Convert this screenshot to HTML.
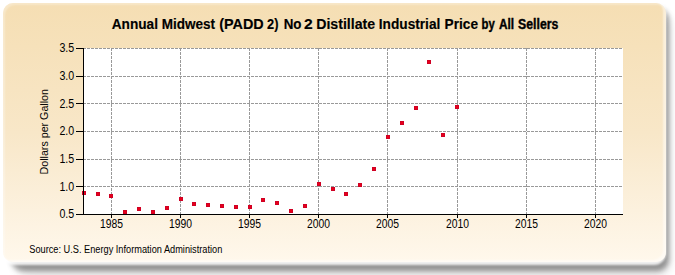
<!DOCTYPE html>
<html><head><meta charset="utf-8"><style>
html,body{margin:0;padding:0;width:675px;height:275px;overflow:hidden;background:#fff;}
.shadow{position:absolute;left:11px;top:8px;width:658px;height:263px;border-radius:12px;background:rgba(0,0,0,0.34);filter:blur(2.6px);}
.shadow2{position:absolute;left:16px;top:14px;width:654px;height:262px;border-radius:14px;background:rgba(0,0,0,0.13);filter:blur(5px);}
.halo{position:absolute;left:2px;top:2px;width:664px;height:263px;border-radius:12px;background:rgba(255,255,255,0.85);filter:blur(1.3px);}
.card{position:absolute;left:3px;top:3px;width:663px;height:259px;border-radius:10px;background:linear-gradient(to bottom,#f5deb3 0%,#f8e7c8 50%,#fcf1de 80%,#fff8ec 100%);box-shadow:inset -3px -2px 2px rgba(255,255,255,0.5), inset 2px 2px 2px rgba(255,255,255,0.3);}
svg{position:absolute;left:0;top:0;}
text{font-family:"Liberation Sans",sans-serif;fill:#000;}
</style></head><body>
<div class="shadow2"></div><div class="shadow"></div><div class="halo"></div><div class="card"></div>
<svg width="675" height="275" viewBox="0 0 675 275">
<g font-weight="bold" font-size="14" stroke="#000" stroke-width="0.15">
<text x="111.7" y="29" textLength="46.27" lengthAdjust="spacingAndGlyphs">Annual</text>
<text x="161.7" y="29" textLength="53.3" lengthAdjust="spacingAndGlyphs">Midwest</text>
<text x="219.3" y="29" textLength="44.42" lengthAdjust="spacingAndGlyphs">(PADD</text>
<text x="267.0" y="29" textLength="11.4" lengthAdjust="spacingAndGlyphs">2)</text>
<text x="283.7" y="29" textLength="17.77" lengthAdjust="spacingAndGlyphs">No</text>
<text x="304.1" y="29" textLength="8.70" lengthAdjust="spacingAndGlyphs">2</text>
<text x="316.2" y="29" textLength="59.01" lengthAdjust="spacingAndGlyphs">Distillate</text>
<text x="378.8" y="29" textLength="61.51" lengthAdjust="spacingAndGlyphs">Industrial</text>
<text x="444.6" y="29" textLength="33.4" lengthAdjust="spacingAndGlyphs">Price</text>
<text x="481.6" y="29" textLength="13.2" lengthAdjust="spacingAndGlyphs" stroke-width="0.4">by</text>
<text x="499.0" y="29" textLength="15.09" lengthAdjust="spacingAndGlyphs" stroke-width="0.4">All</text>
<text x="518.1" y="29" textLength="40.29" lengthAdjust="spacingAndGlyphs" stroke-width="0.4">Sellers</text>
</g>
<rect x="83" y="48" width="540" height="166" fill="#fff"/>
<g stroke="#999" stroke-width="1" stroke-dasharray="3,1" fill="none" shape-rendering="crispEdges">
<line x1="83" y1="76.5" x2="623" y2="76.5"/>
<line x1="83" y1="103.5" x2="623" y2="103.5"/>
<line x1="83" y1="131.5" x2="623" y2="131.5"/>
<line x1="83" y1="159.5" x2="623" y2="159.5"/>
<line x1="83" y1="186.5" x2="623" y2="186.5"/>
<line x1="83" y1="48.5" x2="623" y2="48.5"/>
<line x1="111.5" y1="48" x2="111.5" y2="214"/>
<line x1="180.5" y1="48" x2="180.5" y2="214"/>
<line x1="249.5" y1="48" x2="249.5" y2="214"/>
<line x1="318.5" y1="48" x2="318.5" y2="214"/>
<line x1="387.5" y1="48" x2="387.5" y2="214"/>
<line x1="457.5" y1="48" x2="457.5" y2="214"/>
<line x1="526.5" y1="48" x2="526.5" y2="214"/>
<line x1="595.5" y1="48" x2="595.5" y2="214"/>
</g>
<g shape-rendering="crispEdges">
<g fill="#cf0024">
<rect x="82" y="191" width="4" height="4"/>
<rect x="96" y="192" width="4" height="4"/>
<rect x="109" y="194" width="4" height="4"/>
<rect x="123" y="210" width="4" height="4"/>
<rect x="137" y="207" width="4" height="4"/>
<rect x="151" y="210" width="4" height="4"/>
<rect x="165" y="206" width="4" height="4"/>
<rect x="179" y="197" width="4" height="4"/>
<rect x="192" y="202" width="4" height="4"/>
<rect x="206" y="203" width="4" height="4"/>
<rect x="220" y="204" width="4" height="4"/>
<rect x="234" y="205" width="4" height="4"/>
<rect x="248" y="205" width="4" height="4"/>
<rect x="261" y="198" width="4" height="4"/>
<rect x="275" y="201" width="4" height="4"/>
<rect x="289" y="209" width="4" height="4"/>
<rect x="303" y="204" width="4" height="4"/>
<rect x="317" y="182" width="4" height="4"/>
<rect x="331" y="187" width="4" height="4"/>
<rect x="344" y="192" width="4" height="4"/>
<rect x="358" y="183" width="4" height="4"/>
<rect x="372" y="167" width="4" height="4"/>
<rect x="386" y="135" width="4" height="4"/>
<rect x="400" y="121" width="4" height="4"/>
<rect x="414" y="106" width="4" height="4"/>
<rect x="427" y="60" width="4" height="4"/>
<rect x="441" y="133" width="4" height="4"/>
<rect x="455" y="105" width="4" height="4"/>
</g>
<g fill="#ea0018">
<rect x="83" y="192" width="2" height="2"/>
<rect x="97" y="193" width="2" height="2"/>
<rect x="110" y="195" width="2" height="2"/>
<rect x="124" y="211" width="2" height="2"/>
<rect x="138" y="208" width="2" height="2"/>
<rect x="152" y="211" width="2" height="2"/>
<rect x="166" y="207" width="2" height="2"/>
<rect x="180" y="198" width="2" height="2"/>
<rect x="193" y="203" width="2" height="2"/>
<rect x="207" y="204" width="2" height="2"/>
<rect x="221" y="205" width="2" height="2"/>
<rect x="235" y="206" width="2" height="2"/>
<rect x="249" y="206" width="2" height="2"/>
<rect x="262" y="199" width="2" height="2"/>
<rect x="276" y="202" width="2" height="2"/>
<rect x="290" y="210" width="2" height="2"/>
<rect x="304" y="205" width="2" height="2"/>
<rect x="318" y="183" width="2" height="2"/>
<rect x="332" y="188" width="2" height="2"/>
<rect x="345" y="193" width="2" height="2"/>
<rect x="359" y="184" width="2" height="2"/>
<rect x="373" y="168" width="2" height="2"/>
<rect x="387" y="136" width="2" height="2"/>
<rect x="401" y="122" width="2" height="2"/>
<rect x="415" y="107" width="2" height="2"/>
<rect x="428" y="61" width="2" height="2"/>
<rect x="442" y="134" width="2" height="2"/>
<rect x="456" y="106" width="2" height="2"/>
</g>
</g>
<g stroke="#000" stroke-width="1" shape-rendering="crispEdges">
<line x1="83.5" y1="48" x2="83.5" y2="215"/>
<line x1="83" y1="214.5" x2="623" y2="214.5"/>
<line x1="76" y1="48.5" x2="83" y2="48.5"/>
<line x1="76" y1="76.5" x2="83" y2="76.5"/>
<line x1="76" y1="103.5" x2="83" y2="103.5"/>
<line x1="76" y1="131.5" x2="83" y2="131.5"/>
<line x1="76" y1="159.5" x2="83" y2="159.5"/>
<line x1="76" y1="186.5" x2="83" y2="186.5"/>
<line x1="76" y1="214.5" x2="83" y2="214.5"/>
<line x1="111.5" y1="214" x2="111.5" y2="218"/>
<line x1="180.5" y1="214" x2="180.5" y2="218"/>
<line x1="249.5" y1="214" x2="249.5" y2="218"/>
<line x1="318.5" y1="214" x2="318.5" y2="218"/>
<line x1="387.5" y1="214" x2="387.5" y2="218"/>
<line x1="457.5" y1="214" x2="457.5" y2="218"/>
<line x1="526.5" y1="214" x2="526.5" y2="218"/>
<line x1="595.5" y1="214" x2="595.5" y2="218"/>
</g>
<g font-size="12" text-anchor="end">
<text x="74.2" y="52" textLength="14.8" lengthAdjust="spacingAndGlyphs">3.5</text>
<text x="74.2" y="80" textLength="14.8" lengthAdjust="spacingAndGlyphs">3.0</text>
<text x="74.2" y="108" textLength="14.8" lengthAdjust="spacingAndGlyphs">2.5</text>
<text x="74.2" y="135" textLength="14.8" lengthAdjust="spacingAndGlyphs">2.0</text>
<text x="74.2" y="163" textLength="14.8" lengthAdjust="spacingAndGlyphs">1.5</text>
<text x="74.2" y="191" textLength="14.8" lengthAdjust="spacingAndGlyphs">1.0</text>
<text x="74.2" y="218" textLength="14.8" lengthAdjust="spacingAndGlyphs">0.5</text>
</g>
<g font-size="12" text-anchor="middle">
<text x="111.5" y="228" textLength="23" lengthAdjust="spacingAndGlyphs">1985</text>
<text x="180.5" y="228" textLength="23" lengthAdjust="spacingAndGlyphs">1990</text>
<text x="249.5" y="228" textLength="23" lengthAdjust="spacingAndGlyphs">1995</text>
<text x="318.5" y="228" textLength="23" lengthAdjust="spacingAndGlyphs">2000</text>
<text x="387.5" y="228" textLength="23" lengthAdjust="spacingAndGlyphs">2005</text>
<text x="457.5" y="228" textLength="23" lengthAdjust="spacingAndGlyphs">2010</text>
<text x="526.5" y="228" textLength="23" lengthAdjust="spacingAndGlyphs">2015</text>
<text x="595.5" y="228" textLength="23" lengthAdjust="spacingAndGlyphs">2020</text>
</g>
<text transform="translate(47.6,174.5) rotate(-90)" font-size="11.8" textLength="85.5" lengthAdjust="spacingAndGlyphs">Dollars per Gallon</text>

<text x="29.3" y="253" font-size="10" textLength="193" lengthAdjust="spacingAndGlyphs">Source: U.S. Energy Information Administration</text>
</svg>
</body></html>
